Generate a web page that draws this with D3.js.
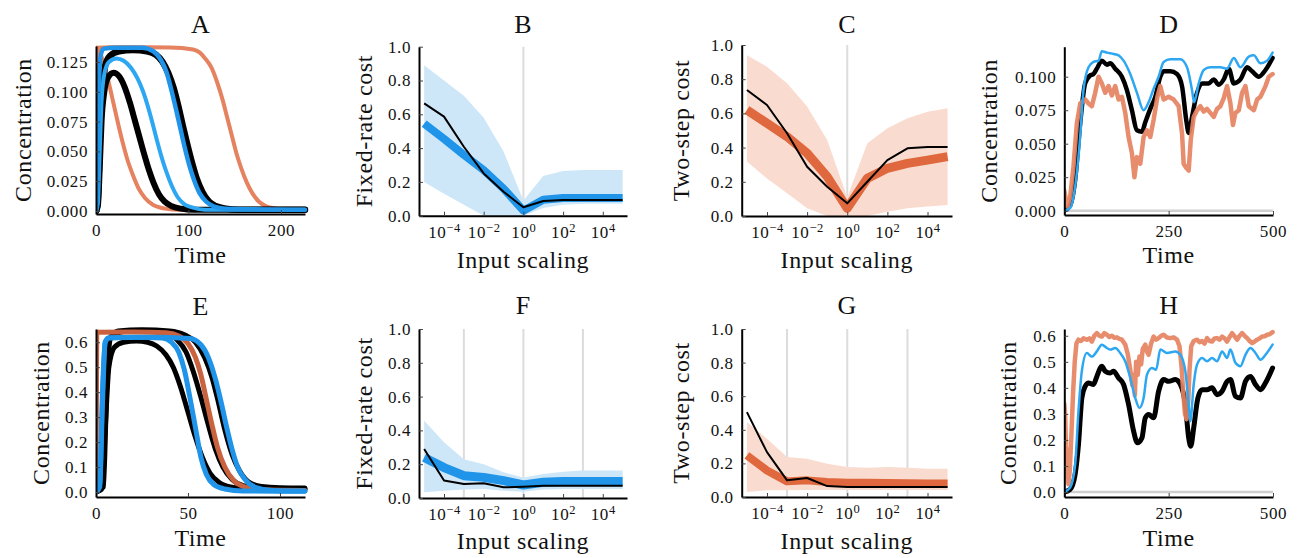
<!DOCTYPE html>
<html>
<head>
<meta charset="utf-8">
<script src="https://cdn.jsdelivr.net/npm/d3@7"></script>
<style>
body { margin: 0; background: #fff; }
svg text { font-family: "Liberation Serif", "DejaVu Serif", serif; fill: #111; }
</style>
</head>
<body>
<svg id="fig" width="1303" height="558"></svg>
<script>
// ---- panel A: concentration vs time, pairs of [time, value]
var aOrangeEarly = [[0,0],[0.8,0.137],[4,0.133],[9,0.122],[14,0.107],[19,0.09],[24,0.073],[29,0.057],[34,0.043],[40,0.03],[46,0.019],[53,0.011],[62,0.005],[75,0.002],[90,0.001],[226,0.001]];
var aOrangeLate = [[0,0],[0.8,0.137],[30,0.1375],[80,0.1372],[105,0.1355],[112,0.133],[118,0.128],[125,0.12],[131,0.108],[137,0.093],[142,0.078],[147,0.063],[152,0.048],[157,0.036],[163,0.024],[169,0.015],[176,0.008],[184,0.004],[195,0.002],[210,0.001],[226,0.001]];
var aBlackLow = [[0,0],[2,0.004],[4,0.035],[6,0.075],[9,0.1],[13,0.112],[19,0.116],[25,0.113],[31,0.104],[37,0.09],[42,0.076],[47,0.062],[52,0.048],[57,0.035],[62,0.024],[68,0.014],[74,0.008],[82,0.004],[92,0.002],[105,0.001],[226,0.001]];
var aBlackHigh = [[0,0],[2,0.01],[4,0.06],[7,0.105],[10,0.122],[15,0.13],[25,0.134],[40,0.135],[55,0.134],[65,0.131],[72,0.125],[78,0.116],[84,0.103],[89,0.088],[94,0.071],[99,0.055],[104,0.04],[109,0.027],[115,0.016],[122,0.008],[130,0.004],[140,0.002],[155,0.001],[226,0.001]];
var aBlueLow = [[0,0],[2,0.006],[4,0.05],[6,0.092],[9,0.115],[14,0.125],[22,0.128],[30,0.126],[38,0.12],[45,0.111],[51,0.1],[56,0.088],[61,0.074],[66,0.059],[71,0.045],[76,0.033],[82,0.021],[88,0.012],[95,0.006],[104,0.003],[118,0.001],[226,0.001]];
var aBlueHigh = [[0,0],[1.5,0.02],[3,0.1],[5,0.13],[8,0.136],[20,0.137],[50,0.137],[62,0.134],[70,0.127],[76,0.117],[81,0.103],[86,0.087],[91,0.07],[96,0.053],[101,0.038],[106,0.026],[112,0.015],[119,0.008],[127,0.004],[140,0.002],[226,0.001]];

// ---- panel E
var eBlackA = [[0,0],[3,0.01],[5,0.25],[7,0.5],[10,0.58],[15,0.6],[22,0.605],[28,0.6],[33,0.585],[38,0.55],[42,0.5],[46,0.42],[50,0.32],[54,0.22],[58,0.135],[62,0.075],[67,0.038],[73,0.02],[82,0.012],[113.6,0.01]];
var eBlueA = [[0,0],[2,0.02],[3.5,0.35],[5,0.6],[7,0.617],[20,0.62],[36,0.617],[41,0.6],[45,0.56],[48,0.49],[51,0.38],[54,0.26],[57,0.14],[60,0.07],[64,0.03],[70,0.012],[80,0.004],[113.6,0.003]];
var eBlackB = [[0,0],[3,0.02],[5,0.4],[7,0.6],[10,0.635],[20,0.645],[30,0.645],[38,0.635],[44,0.61],[49,0.56],[53,0.48],[57,0.38],[61,0.27],[65,0.17],[69,0.1],[74,0.05],[80,0.025],[90,0.014],[113.6,0.012]];
var eOrange = [[0,0],[0.4,0.64],[20,0.641],[38,0.638],[45,0.625],[50,0.595],[54,0.54],[57,0.47],[60,0.37],[63,0.27],[66,0.18],[70,0.1],[75,0.045],[81,0.02],[90,0.009],[113.6,0.006]];
var eBlackC = [[0,0],[4,0.02],[6,0.45],[8,0.62],[12,0.645],[25,0.65],[40,0.645],[48,0.63],[54,0.6],[59,0.54],[63,0.46],[66.5,0.36],[70,0.25],[74,0.15],[78,0.085],[83,0.04],[90,0.022],[100,0.017],[113.6,0.016]];
var eBlueB = [[0,0],[2,0.03],[3.5,0.4],[5,0.6],[7,0.618],[30,0.62],[51,0.615],[57,0.59],[61,0.54],[65,0.45],[68,0.36],[71,0.26],[74,0.17],[77,0.1],[81,0.05],[87,0.018],[96,0.006],[113.6,0.004]];

// ---- cost panels: input scaling exponents 10^-5 .. 10^5
var scaleExp = [-5,-4,-3,-2,-1,0,1,2,3,4,5];
var bMean = [0.545,0.455,0.36,0.27,0.16,0.03,0.095,0.105,0.105,0.105,0.105];
var bLo   = [0.20,0.13,0.065,0.0,0.0,0.0,0.045,0.065,0.07,0.07,0.07];
var bHi   = [0.89,0.80,0.71,0.58,0.38,0.09,0.235,0.265,0.27,0.27,0.27];
var bRef  = [0.665,0.586,0.408,0.25,0.142,0.05,0.087,0.093,0.093,0.093,0.093];

var cMean = [0.62,0.542,0.464,0.367,0.23,0.045,0.22,0.279,0.308,0.327,0.347];
var cLo   = [0.318,0.22,0.133,0.045,0.0,0.0,0.0,0.025,0.045,0.055,0.064];
var cHi   = [0.94,0.873,0.776,0.64,0.444,0.11,0.425,0.513,0.571,0.61,0.63];
var cRef  = [0.737,0.649,0.484,0.288,0.171,0.074,0.2,0.327,0.396,0.404,0.404];

var fMean = [0.24,0.18,0.132,0.122,0.103,0.077,0.093,0.097,0.097,0.097,0.097];
var fLo   = [0.034,0.043,0.05,0.053,0.043,0.037,0.05,0.053,0.053,0.053,0.053];
var fHi   = [0.458,0.33,0.23,0.2,0.152,0.122,0.142,0.156,0.162,0.162,0.162];
var fRef  = [0.29,0.103,0.083,0.087,0.063,0.067,0.073,0.073,0.073,0.073,0.073];

var gMean = [0.248,0.158,0.093,0.099,0.089,0.085,0.085,0.083,0.082,0.08,0.08];
var gLo   = [0.03,0.04,0.04,0.042,0.042,0.042,0.042,0.042,0.042,0.042,0.042];
var gHi   = [0.446,0.347,0.238,0.228,0.198,0.178,0.174,0.178,0.174,0.168,0.168];
var gRef  = [0.505,0.267,0.099,0.113,0.065,0.059,0.059,0.059,0.059,0.059,0.059];

var costTicks = [0,0.2,0.4,0.6,0.8,1.0];
var scaleTicks = [1e-4,1e-2,1,1e2,1e4];

// ---- panel D: time series
var dBlue = [[0,0],[14,0.002],[26,0.018],[38,0.055],[46,0.09],[58,0.107],[70,0.111],[82,0.112],[90,0.119],[102,0.118],[118,0.117],[130,0.116],[142,0.112],[158,0.102],[174,0.088],[190,0.075],[202,0.081],[214,0.091],[226,0.1],[238,0.111],[254,0.113],[278,0.113],[294,0.107],[306,0.09],[311,0.081],[322,0.095],[334,0.105],[350,0.107],[374,0.107],[390,0.106],[406,0.114],[422,0.107],[442,0.115],[454,0.116],[470,0.11],[486,0.112],[499,0.118]];
var dBlack = [[0,0],[14,0.004],[26,0.023],[38,0.065],[50,0.095],[62,0.101],[70,0.102],[78,0.106],[90,0.112],[102,0.109],[110,0.11],[122,0.106],[138,0.1],[150,0.09],[162,0.075],[174,0.06],[186,0.059],[194,0.066],[206,0.076],[218,0.085],[230,0.1],[238,0.104],[254,0.104],[270,0.102],[282,0.093],[292,0.068],[298,0.058],[306,0.07],[318,0.088],[330,0.095],[346,0.095],[358,0.098],[370,0.094],[382,0.098],[394,0.106],[406,0.095],[422,0.098],[438,0.107],[450,0.104],[466,0.1],[482,0.105],[499,0.114]];
var dOrange = [[0,0.015],[4,0.008],[8,0.003],[14,0.01],[22,0.033],[30,0.065],[38,0.08],[50,0.083],[58,0.08],[66,0.078],[74,0.088],[82,0.1],[90,0.095],[98,0.088],[106,0.093],[114,0.086],[122,0.093],[130,0.083],[138,0.085],[146,0.073],[154,0.055],[162,0.043],[168,0.025],[174,0.04],[182,0.035],[190,0.055],[198,0.06],[206,0.055],[214,0.068],[223,0.085],[230,0.093],[238,0.083],[250,0.085],[262,0.083],[274,0.078],[282,0.058],[286,0.035],[292,0.032],[298,0.03],[303,0.053],[310,0.07],[318,0.075],[326,0.078],[334,0.074],[342,0.076],[350,0.073],[358,0.07],[366,0.076],[374,0.078],[382,0.084],[390,0.093],[398,0.08],[404,0.064],[410,0.073],[418,0.075],[426,0.088],[434,0.093],[442,0.078],[454,0.075],[462,0.083],[470,0.085],[482,0.093],[490,0.1],[499,0.102]];

// ---- panel H
var hBlue = [[0,0],[14,0.017],[26,0.106],[34,0.31],[42,0.464],[54,0.534],[66,0.52],[78,0.54],[90,0.566],[102,0.553],[110,0.547],[122,0.553],[134,0.534],[146,0.502],[158,0.438],[170,0.361],[180,0.323],[190,0.361],[198,0.45],[210,0.476],[220,0.47],[230,0.547],[246,0.534],[266,0.54],[278,0.527],[290,0.464],[298,0.336],[302,0.272],[310,0.413],[318,0.489],[330,0.515],[342,0.502],[354,0.515],[366,0.502],[378,0.54],[390,0.515],[398,0.547],[410,0.496],[422,0.483],[434,0.527],[446,0.553],[458,0.534],[470,0.508],[482,0.527],[499,0.566]];
var hBlack = [[0,0],[14,0.01],[26,0.068],[34,0.183],[42,0.361],[50,0.406],[58,0.419],[70,0.413],[78,0.444],[90,0.483],[98,0.464],[110,0.457],[118,0.464],[130,0.438],[142,0.413],[154,0.336],[166,0.234],[175,0.189],[186,0.208],[194,0.285],[202,0.298],[214,0.285],[226,0.387],[238,0.432],[250,0.425],[266,0.432],[278,0.413],[290,0.336],[298,0.208],[303,0.176],[310,0.246],[320,0.361],[330,0.393],[342,0.393],[354,0.4],[366,0.374],[378,0.387],[390,0.425],[398,0.432],[410,0.368],[422,0.361],[434,0.425],[446,0.444],[458,0.413],[470,0.393],[482,0.419],[499,0.476]];
var hOrange = [[0,0.34],[2,0.3],[4,0.18],[6,0.12],[8,0.05],[10,0.03],[13,0.08],[17,0.22],[21,0.38],[25,0.5],[29,0.57],[34,0.585],[40,0.58],[46,0.59],[54,0.585],[60,0.59],[66,0.578],[72,0.6],[78,0.61],[84,0.6],[90,0.597],[96,0.61],[102,0.604],[108,0.595],[114,0.6],[120,0.592],[126,0.594],[132,0.588],[138,0.585],[146,0.566],[152,0.53],[158,0.47],[163,0.41],[166,0.45],[169,0.37],[172,0.5],[176,0.45],[180,0.52],[184,0.49],[188,0.55],[194,0.566],[198,0.54],[202,0.527],[208,0.57],[214,0.597],[220,0.585],[226,0.591],[232,0.6],[238,0.604],[246,0.593],[254,0.591],[262,0.594],[270,0.585],[276,0.56],[281,0.48],[285,0.38],[289,0.3],[293,0.28],[297,0.35],[300,0.47],[304,0.56],[310,0.58],[318,0.585],[324,0.575],[330,0.58],[336,0.57],[342,0.591],[348,0.58],[354,0.578],[360,0.59],[366,0.591],[372,0.585],[378,0.597],[384,0.59],[390,0.578],[396,0.595],[402,0.61],[408,0.598],[414,0.585],[420,0.6],[426,0.61],[432,0.6],[438,0.591],[444,0.58],[450,0.572],[456,0.578],[462,0.585],[468,0.59],[474,0.597],[480,0.598],[486,0.604],[492,0.606],[499,0.614]];

var BLACK = "#000", BLUE = "#1f94e8", BLUE_THIN = "#2ea7f2", ORANGE = "#e5825f",
    ORANGE_DARK = "#e0683e", ORANGE_E = "#c9623f", BLUE_BAND = "#cde7f9", ORANGE_BAND = "#f9dccf";

var svg = d3.select("#fig");

function styleAxis(g) {
  g.attr("font-family", null).attr("font-size", 17).attr("letter-spacing", 0.6);
  g.select(".domain").attr("stroke", "#000").attr("stroke-width", 2);
  g.selectAll(".tick line").attr("stroke", "#444").attr("stroke-width", 1);
  g.selectAll(".tick text").attr("fill", "#111");
}

function labels(p) {
  var cx = (p.left + p.right) / 2;
  svg.append("text").attr("x", cx).attr("y", p.titleY).attr("text-anchor", "middle")
     .attr("font-size", 26).text(p.title);
  svg.append("text").attr("x", cx).attr("y", p.xlabY).attr("text-anchor", "middle")
     .attr("font-size", 24).attr("letter-spacing", 0.6).text(p.xlab);
  svg.append("text").attr("transform", "translate(" + p.ylabX + "," + ((p.top + p.bottom) / 2) + ") rotate(-90)")
     .attr("text-anchor", "middle").attr("font-size", 24).attr("letter-spacing", 0.6).text(p.ylab);
}

function clip(p) {
  var id = "clip" + p.title;
  svg.append("clipPath").attr("id", id).append("rect")
     .attr("x", p.left).attr("y", p.top - 6).attr("width", p.right - p.left + 4).attr("height", p.bottom - p.top + 6);
  return "url(#" + id + ")";
}

function timePanel(p) {
  var x = d3.scaleLinear().domain(p.xDomain).range([p.left, p.right]);
  var y = d3.scaleLinear().domain(p.yDomain).range([p.bottom, p.top]);
  var plot = svg.append("g").attr("clip-path", clip(p));

  if (p.zeroLine) {
    plot.append("line").attr("x1", p.left).attr("x2", p.right).attr("y1", y(0)).attr("y2", y(0))
        .attr("stroke", "#cfcfcf").attr("stroke-width", 2.5);
  }

  p.series.forEach(function (s) {
    var line = d3.line().x(function (d) { return x(d[0]); }).y(function (d) { return y(d[1]); })
                 .curve(s.smooth ? d3.curveMonotoneX : d3.curveLinear);
    plot.append("path").datum(s.data).attr("d", line)
        .attr("fill", "none").attr("stroke", s.color).attr("stroke-width", s.width)
        .attr("stroke-linejoin", "round").attr("stroke-linecap", "round")
        .attr("opacity", s.opacity || 1);
  });

  svg.append("g").attr("transform", "translate(0," + p.bottom + ")")
     .call(d3.axisBottom(x).tickValues(p.xTicks).tickFormat(d3.format("d"))
            .tickSizeInner(-4).tickSizeOuter(0).tickPadding(10))
     .call(styleAxis);
  svg.append("g").attr("transform", "translate(" + p.left + ",0)")
     .call(d3.axisLeft(y).tickValues(p.yTicks).tickFormat(d3.format(p.yFormat))
            .tickSizeInner(-4).tickSizeOuter(0).tickPadding(8))
     .call(styleAxis);
  labels(p);
}

function costPanel(p) {
  var x = d3.scaleLog().domain([Math.pow(10, -5.26), Math.pow(10, 5.22)]).range([p.left, p.right]);
  var y = d3.scaleLinear().domain([0, 1]).range([p.bottom, p.top]);
  var plot = svg.append("g").attr("clip-path", clip(p));

  p.vlines.forEach(function (v) {
    plot.append("line").attr("x1", x(v)).attr("x2", x(v)).attr("y1", p.top).attr("y2", p.bottom)
        .attr("stroke", "#dcdcdc").attr("stroke-width", 2);
  });

  var band = d3.area()
    .x(function (d, i) { return x(Math.pow(10, scaleExp[i])); })
    .y0(function (d, i) { return y(p.lo[i]); })
    .y1(function (d, i) { return y(p.hi[i]); });
  plot.append("path").datum(scaleExp).attr("d", band).attr("fill", p.bandColor);

  var line = function (vals) {
    return d3.line().x(function (d, i) { return x(Math.pow(10, scaleExp[i])); })
                    .y(function (d) { return y(d); })(vals);
  };
  plot.append("path").attr("d", line(p.mean)).attr("fill", "none")
      .attr("stroke", p.color).attr("stroke-width", p.meanWidth).attr("stroke-linejoin", "round");
  plot.append("path").attr("d", line(p.ref)).attr("fill", "none")
      .attr("stroke", BLACK).attr("stroke-width", 2).attr("stroke-linejoin", "round");

  var xa = svg.append("g").attr("transform", "translate(0," + p.bottom + ")")
     .call(d3.axisBottom(x).tickValues(scaleTicks).tickSizeInner(-4).tickSizeOuter(0).tickPadding(10))
     .call(styleAxis);
  xa.selectAll(".tick text").each(function (d) {
    var e = Math.round(Math.log10(d));
    var t = d3.select(this).text(null);
    t.append("tspan").text("10");
    t.append("tspan").attr("dy", "-0.5em").attr("font-size", 12.5).text(e < 0 ? "\u2212" + (-e) : e);
  });
  svg.append("g").attr("transform", "translate(" + p.left + ",0)")
     .call(d3.axisLeft(y).tickValues(costTicks).tickFormat(d3.format(".1f"))
            .tickSizeInner(-4).tickSizeOuter(0).tickPadding(8))
     .call(styleAxis);
  labels(p);
}

timePanel({
  title: "A", xlab: "Time", ylab: "Concentration",
  left: 96, right: 305, top: 46, bottom: 214, titleY: 33, xlabY: 263, ylabX: 31,
  xDomain: [0, 226], yDomain: [-0.0025, 0.1384], xTicks: [0, 100, 200],
  yTicks: [0, 0.025, 0.05, 0.075, 0.1, 0.125], yFormat: ".3f",
  series: [
    { data: aOrangeEarly, color: ORANGE, width: 4, smooth: true },
    { data: aOrangeLate, color: ORANGE, width: 4, smooth: true },
    { data: aBlackLow, color: BLACK, width: 6, smooth: true },
    { data: aBlackHigh, color: BLACK, width: 6.5, smooth: true },
    { data: aBlueLow, color: BLUE_THIN, width: 4, smooth: true },
    { data: aBlueHigh, color: BLUE, width: 4.5, smooth: true }
  ]
});

costPanel({
  title: "B", xlab: "Input scaling", ylab: "Fixed-rate cost",
  left: 419, right: 627, top: 46.7, bottom: 215.7, titleY: 33, xlabY: 268, ylabX: 372,
  vlines: [1], lo: bLo, hi: bHi, mean: bMean, ref: bRef,
  bandColor: BLUE_BAND, color: BLUE, meanWidth: 8
});

costPanel({
  title: "C", xlab: "Input scaling", ylab: "Two-step cost",
  left: 741.7, right: 952, top: 45, bottom: 216, titleY: 33, xlabY: 268, ylabX: 689,
  vlines: [1], lo: cLo, hi: cHi, mean: cMean, ref: cRef,
  bandColor: ORANGE_BAND, color: ORANGE_DARK, meanWidth: 9
});

timePanel({
  title: "D", xlab: "Time", ylab: "Concentration",
  left: 1064.3, right: 1273, top: 46.7, bottom: 215, titleY: 33, xlabY: 263, ylabX: 997,
  xDomain: [0, 500], yDomain: [-0.0032, 0.1224], xTicks: [0, 250, 500],
  yTicks: [0, 0.025, 0.05, 0.075, 0.1], yFormat: ".3f", zeroLine: true,
  series: [
    { data: dBlack, color: BLACK, width: 4.5, smooth: true },
    { data: dOrange, color: ORANGE, width: 4.5, opacity: 0.92 },
    { data: dBlue, color: BLUE_THIN, width: 2.5, smooth: true }
  ]
});

timePanel({
  title: "E", xlab: "Time", ylab: "Concentration",
  left: 96, right: 305, top: 329, bottom: 497, titleY: 315, xlabY: 546, ylabX: 49,
  xDomain: [0, 113.6], yDomain: [-0.02, 0.653], xTicks: [0, 50, 100],
  yTicks: [0, 0.1, 0.2, 0.3, 0.4, 0.5, 0.6], yFormat: ".1f",
  series: [
    { data: eBlackA, color: BLACK, width: 5, smooth: true },
    { data: eBlackB, color: BLACK, width: 5, smooth: true },
    { data: eBlackC, color: BLACK, width: 5, smooth: true },
    { data: eOrange, color: ORANGE_E, width: 5, smooth: true },
    { data: eBlueA, color: BLUE, width: 5, smooth: true },
    { data: eBlueB, color: BLUE, width: 5, smooth: true }
  ]
});

costPanel({
  title: "F", xlab: "Input scaling", ylab: "Fixed-rate cost",
  left: 419, right: 627, top: 329, bottom: 498, titleY: 314, xlabY: 549, ylabX: 372,
  vlines: [1e-3, 1, 1e3], lo: fLo, hi: fHi, mean: fMean, ref: fRef,
  bandColor: BLUE_BAND, color: BLUE, meanWidth: 9
});

costPanel({
  title: "G", xlab: "Input scaling", ylab: "Two-step cost",
  left: 741.7, right: 952, top: 329, bottom: 497, titleY: 314, xlabY: 549, ylabX: 689,
  vlines: [1e-3, 1, 1e3], lo: gLo, hi: gHi, mean: gMean, ref: gRef,
  bandColor: ORANGE_BAND, color: ORANGE_DARK, meanWidth: 8
});

timePanel({
  title: "H", xlab: "Time", ylab: "Concentration",
  left: 1064.3, right: 1273, top: 329, bottom: 497, titleY: 314, xlabY: 546, ylabX: 1016,
  xDomain: [0, 500], yDomain: [-0.019, 0.626], xTicks: [0, 250, 500],
  yTicks: [0, 0.1, 0.2, 0.3, 0.4, 0.5, 0.6], yFormat: ".1f", zeroLine: true,
  series: [
    { data: hBlack, color: BLACK, width: 5, smooth: true },
    { data: hOrange, color: ORANGE, width: 4.5, opacity: 0.92 },
    { data: hBlue, color: BLUE_THIN, width: 2.5, smooth: true }
  ]
});
</script>
</body>
</html>
